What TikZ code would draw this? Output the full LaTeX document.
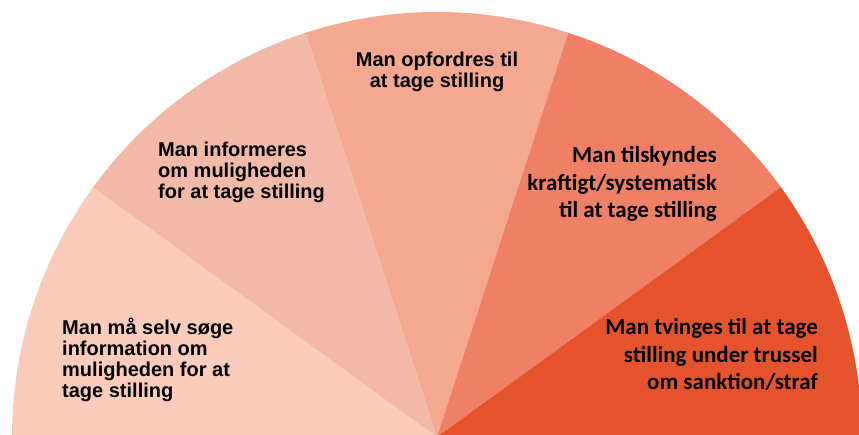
\documentclass[tikz,border=0pt]{standalone}
\usepackage{fontspec}
\setmainfont{Liberation Sans}
\newfontfamily\calibrifont{Carlito}
\definecolor{fanpeach}{rgb}{0.984, 0.796, 0.737}
\definecolor{fansalmon}{rgb}{0.953, 0.725, 0.659}
\definecolor{fancoral}{rgb}{0.953, 0.659, 0.561}
\definecolor{fantomato}{rgb}{0.937, 0.502, 0.396}
\definecolor{fanred}{rgb}{0.898, 0.325, 0.176}

\begin{document}
\begin{tikzpicture}[x=1pt, y=1pt,
        arialtext/.style={inner sep=0pt, font=\fontsize{20}{21}\selectfont\bfseries},
        calibritext/.style={inner sep=0pt, font=\fontsize{23}{27.5}\selectfont\calibrifont\bfseries}]
        \useasboundingbox (0, 0) rectangle (859, 435);
        \clip (0, 0) rectangle (859, 435);
        \coordinate (O) at (437, -2);

        % fan of five sectors
        \foreach \a/\c in {144/fanpeach, 108/fansalmon, 72/fancoral, 36/fantomato, 0/fanred}
            \fill [\c] (O) -- ++(\a:425) arc [start angle=\a, end angle=\a+36, radius=425] -- cycle;

        % base anchor sits on the last line
        \node [arialtext, anchor=base west, align=left] (T1) at (62, 37)
            {Man må selv søge\\information om\\muligheden for at\\tage stilling};
        \node [arialtext, anchor=base west, align=left] (T2) at (158, 236)
            {Man informeres\\om muligheden\\for at tage stilling};
        \node [arialtext, anchor=base, align=center] (T3) at (437, 347)
            {Man opfordres til\\at tage stilling};
        \node [calibritext, anchor=base east, align=right] (T4) at (717, 217)
            {Man tilskyndes\\kraftigt/systematisk\\til at tage stilling};
        \node [calibritext, anchor=base east, align=right] (T5) at (818, 45)
            {Man tvinges til at tage\\stilling under trussel\\om sanktion/straf};
    \end{tikzpicture}
\end{document}
